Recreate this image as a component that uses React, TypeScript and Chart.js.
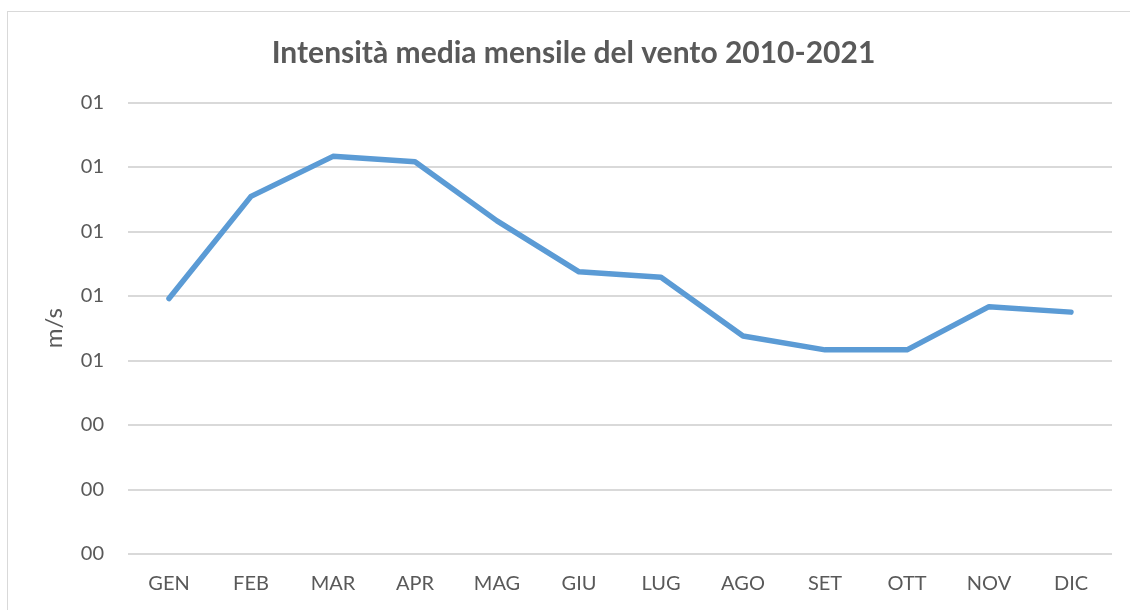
import React, { useEffect, useRef } from "react";
import { Chart, registerables } from "chart.js";

Chart.register(...registerables);

const categories = ["GEN", "FEB", "MAR", "APR", "MAG", "GIU", "LUG", "AGO", "SET", "OTT", "NOV", "DIC"];
const windSpeed = [0.792, 1.109, 1.233, 1.216, 1.033, 0.875, 0.858, 0.676, 0.633, 0.633, 0.767, 0.75];
const titleText = "Intensità media mensile del vento 2010-2021";
const yAxisTitle = "m/s";
const yMin = 0;
const yMax = 1.4;
const yStep = 0.2;

export default function App() {
  const ref = useRef<HTMLCanvasElement | null>(null);

  useEffect(() => {
    if (!ref.current) return;
    const chart = new Chart(ref.current, {
      type: "line",
      data: {
        labels: categories,
        datasets: [
          {
            data: windSpeed,
            borderColor: "#5B9BD5",
            backgroundColor: "#5B9BD5",
            borderWidth: 5.5,
            borderCapStyle: "round",
            borderJoinStyle: "round",
            pointRadius: 0,
            pointHoverRadius: 0,
            tension: 0,
            fill: false,
            yAxisID: "y",
          },
        ],
      },
      options: {
        animation: false,
        responsive: false,
        maintainAspectRatio: false,
        layout: { padding: 0 },
        plugins: {
          legend: { display: false },
          tooltip: { enabled: false },
          title: {
            display: true,
            text: titleText,
            color: "#595959",
            font: { family: "Lato", size: 30, weight: "bold" },
            padding: { top: 23.5, bottom: 31 },
          },
        },
        scales: {
          x: {
            type: "category",
            offset: true,
            grid: { display: false, drawTicks: false },
            border: { display: false },
            ticks: {
              color: "#595959",
              font: { family: "Lato", size: 20 },
              padding: 18,
              maxRotation: 0,
              autoSkip: false,
            },
            afterFit: (scale: any) => {
              scale.height = 68;
            },
          },
          y: {
            min: yMin,
            max: yMax,
            grid: { color: "#d9d9d9", lineWidth: 2, drawTicks: false },
            border: { display: false },
            ticks: {
              stepSize: yStep,
              color: "#595959",
              font: { family: "Lato", size: 20 },
              padding: 24,
              callback: (v: any) => String(Math.round(Number(v))).padStart(2, "0"),
            },
            title: {
              display: true,
              text: yAxisTitle,
              color: "#595959",
              font: { family: "Lato", size: 24 },
              padding: { top: 32, bottom: 0 },
            },
            afterFit: (scale: any) => {
              scale.width = 120;
            },
          },
          spacer: {
            position: "right",
            min: yMin,
            max: yMax,
            grid: { display: false, drawTicks: false },
            border: { display: false },
            ticks: { display: false },
            afterFit: (scale: any) => {
              scale.width = 27;
            },
          },
        },
      },
    });
    return () => chart.destroy();
  }, []);

  return (
    <div style={{ position: "fixed", left: 0, top: 0, width: 1130, height: 610, overflow: "hidden", background: "#fff" }}>
      <div
        style={{
          position: "absolute",
          left: 7,
          top: 11,
          width: 1133,
          height: 620,
          border: "1px solid #d9d9d9",
          boxSizing: "border-box",
        }}
      />
      <div style={{ position: "absolute", left: 8, top: 12, width: 1131, height: 610 }}>
        <canvas ref={ref} width={1131} height={610} style={{ display: "block" }} />
      </div>
    </div>
  );
}
